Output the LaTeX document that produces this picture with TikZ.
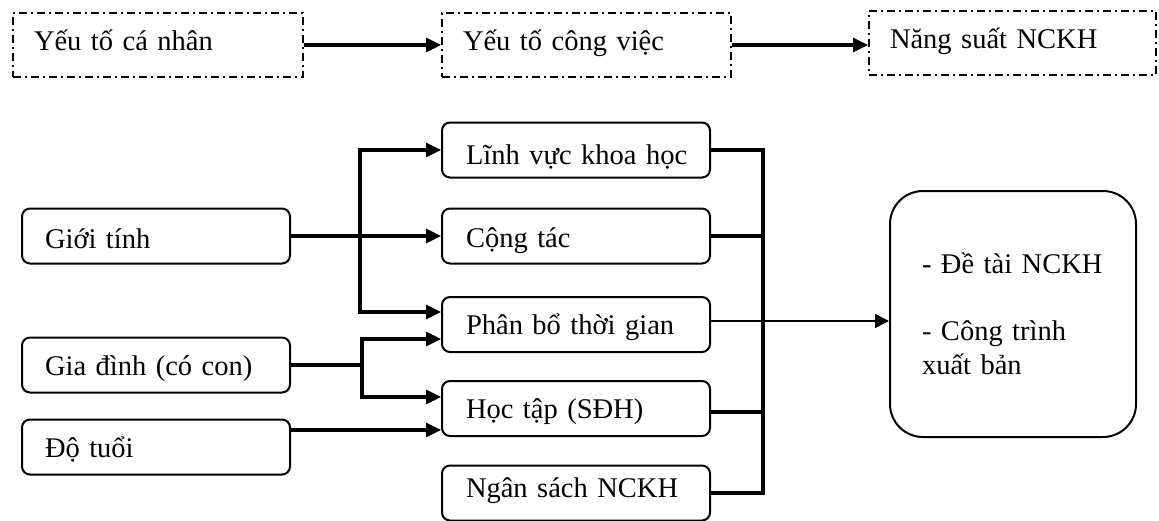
\documentclass[tikz,border=0pt]{standalone}
\usepackage{fontspec}
\setmainfont{Liberation Serif}
\usetikzlibrary{arrows.meta}

\begin{document}
\begin{tikzpicture}[
  x=1pt, y=-1pt,
  font=\fontsize{28.5}{33.5}\selectfont,
  dbox/.style={draw, line width=2pt, dash pattern=on 8pt off 4pt on 2pt off 4pt,
    minimum height=64pt, inner xsep=21pt, inner ysep=0pt, align=left,
    text height=19pt, text depth=9pt},
  cbox/.style={draw, line width=2pt, rounded corners=8pt, minimum height=55pt,
    inner xsep=24pt, inner ysep=0pt, text width=220pt, align=left,
    text height=24pt, text depth=4pt},
  ln/.style={line width=3.1pt},
  arr/.style={-{Triangle[length=15pt,width=14pt]}, line width=3.1pt},
  thinarr/.style={-{Triangle[length=14pt,width=14pt]}, line width=1.4pt}
]
  \useasboundingbox (0,0) rectangle (1159,520);

  % Top row
  \node[dbox, text width=248pt] (canhan) at (158,45) {Yếu~tố~cá~nhân};
  \node[dbox, text width=247pt] (congviec) at (586.5,45) {Yếu~tố~công~việc};
  \node[dbox, text width=245pt, text height=19.5pt, text depth=8.5pt] (nangsuat) at (1012.5,43) {Năng~suất~NCKH};
  \draw[arr] (canhan.east) -- (congviec.west);
  \draw[arr] (congviec.east) -- (congviec.east -| nangsuat.west);

  % Personal factors
  \node[cbox, inner xsep=23pt, text width=222pt, text height=26pt, text depth=2pt] (gioi) at (156,236) {Giới~tính};
  \node[cbox, inner xsep=23pt, text width=222pt] (giadinh) at (156,365) {Gia~đình~(có~con)};
  \node[cbox, inner xsep=23pt, text width=222pt] (dotuoi) at (156,447) {Độ~tuổi};

  % Work factors
  \node[cbox, text height=28pt, text depth=0pt] (linhvuc) at (576,150) {Lĩnh~vực~khoa~học};
  \node[cbox, text height=25pt, text depth=3pt] (congtac) at (576,236) {Cộng~tác};
  \node[cbox] (phanbo) at (576,324.5) {Phân~bổ~thời~gian};
  \node[cbox] (hoctap) at (576,408.5) {Học~tập~(SĐH)};
  \node[cbox, text height=18pt, text depth=10pt] (ngansach) at (576,493) {Ngân~sách~NCKH};

  % Output
  \node[draw, line width=2pt, rounded corners=33pt, minimum height=246pt,
    inner xsep=32pt, inner ysep=0pt, text width=182pt, align=left]
    (ketqua) at (1013,314) {-~Đề~tài~NCKH\\[33.5pt]-~Công~trình\\xuất~bản};

  % Junctions and bus
  \coordinate (jg) at (360,236);
  \coordinate (jd) at (362,365);
  \coordinate (bus) at (763,0);

  % Left connectors
  \draw[arr] (gioi.east) -- (congtac.west);
  \draw[arr] (jg) |- (linhvuc.west);
  \draw[arr] (jg) |- ([yshift=12.5pt]phanbo.west);
  \draw[ln] (giadinh.east) -- (jd);
  \draw[arr] (jd) |- ([yshift=-14.5pt]phanbo.west);
  \draw[arr] (jd) |- ([yshift=11.5pt]hoctap.west);
  \draw[arr] ([yshift=17pt]dotuoi.east) -- ([yshift=17pt]dotuoi.east -| hoctap.west);

  % Right bus
  \draw[ln] (linhvuc.east) -- (linhvuc.east -| bus) -- (ngansach.east -| bus) -- (ngansach.east);
  \draw[ln] (congtac.east) -- (congtac.east -| bus);
  \draw[ln] ([yshift=-3.5pt]hoctap.east) -- ([yshift=-3.5pt]hoctap.east -| bus);
  \draw[thinarr] ([yshift=3.5pt]phanbo.east) -- ([yshift=3.5pt]phanbo.east -| ketqua.west);
\end{tikzpicture}
\end{document}
